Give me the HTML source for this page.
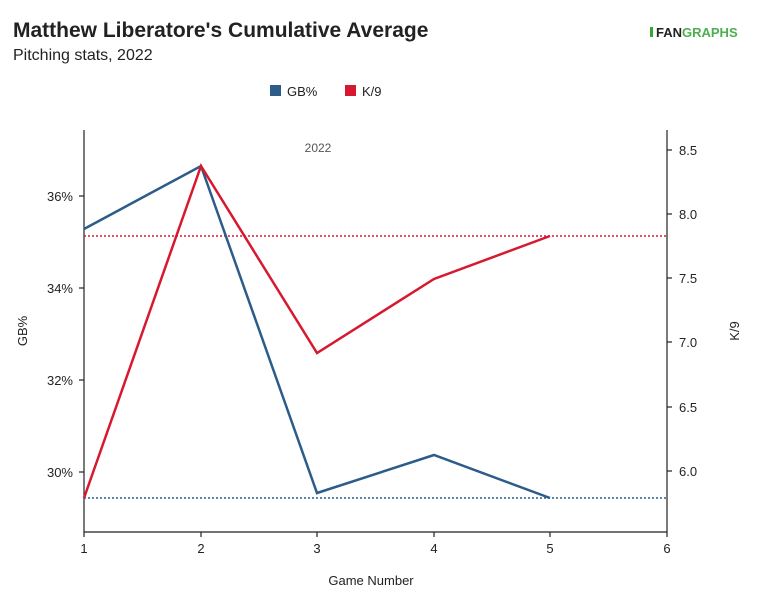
<!DOCTYPE html>
<html><head><style>body{margin:0;background:#fff}svg{display:block;font-family:"Liberation Sans",sans-serif}</style></head>
<body>
<svg width="759" height="614" xmlns="http://www.w3.org/2000/svg">
<text x="13" y="37" font-size="21" font-weight="bold" fill="#222">Matthew Liberatore's Cumulative Average</text>
<text x="13" y="60" font-size="16" fill="#222">Pitching stats, 2022</text>
<g font-weight="bold" font-size="13">
<rect x="650" y="27" width="3" height="10" fill="#3a3"/><text x="656" y="37" fill="#222">FAN<tspan fill="#4caf50">GRAPHS</tspan></text>
</g>
<rect x="270" y="85" width="11" height="11" fill="#2b5c8a"/><text x="287" y="96" font-size="13" fill="#222">GB%</text>
<rect x="345" y="85" width="11" height="11" fill="#d7192f"/><text x="362" y="96" font-size="13" fill="#222">K/9</text>
<text x="318" y="152" font-size="12" fill="#555" text-anchor="middle">2022</text>
<g stroke="#222" stroke-width="1.2">
<line x1="84" y1="130" x2="84" y2="532"/><line x1="667" y1="130" x2="667" y2="532"/><line x1="84" y1="532" x2="667" y2="532"/>
<line x1="79" y1="196" x2="84" y2="196"/><line x1="79" y1="288" x2="84" y2="288"/><line x1="79" y1="380" x2="84" y2="380"/><line x1="79" y1="472" x2="84" y2="472"/>
<line x1="667" y1="150" x2="672" y2="150"/><line x1="667" y1="214" x2="672" y2="214"/><line x1="667" y1="278" x2="672" y2="278"/><line x1="667" y1="342" x2="672" y2="342"/><line x1="667" y1="407" x2="672" y2="407"/><line x1="667" y1="471" x2="672" y2="471"/>
<line x1="84" y1="532" x2="84" y2="537"/><line x1="201" y1="532" x2="201" y2="537"/><line x1="317" y1="532" x2="317" y2="537"/><line x1="434" y1="532" x2="434" y2="537"/><line x1="550" y1="532" x2="550" y2="537"/><line x1="667" y1="532" x2="667" y2="537"/>
</g>
<g font-size="13" fill="#222" text-anchor="end">
<text x="73" y="201">36%</text><text x="73" y="293">34%</text><text x="73" y="385">32%</text><text x="73" y="477">30%</text>
</g>
<g font-size="13" fill="#222">
<text x="679" y="155">8.5</text><text x="679" y="219">8.0</text><text x="679" y="283">7.5</text><text x="679" y="347">7.0</text><text x="679" y="412">6.5</text><text x="679" y="476">6.0</text>
</g>
<g font-size="13" fill="#222" text-anchor="middle">
<text x="84" y="553">1</text><text x="201" y="553">2</text><text x="317" y="553">3</text><text x="434" y="553">4</text><text x="550" y="553">5</text><text x="667" y="553">6</text>
<text x="371" y="585">Game Number</text>
<text transform="translate(27,331) rotate(-90)">GB%</text>
<text transform="translate(739,331) rotate(-90)">K/9</text>
</g>
<line x1="84" y1="236" x2="667" y2="236" stroke="#d7192f" stroke-width="1.5" stroke-dasharray="2,2"/>
<line x1="84" y1="498" x2="667" y2="498" stroke="#2b5c8a" stroke-width="1.5" stroke-dasharray="2,2"/>
<polyline points="84,229 201,166 317,493 434,455 550,498" fill="none" stroke="#2b5c8a" stroke-width="2.5"/>
<polyline points="84,498 201,166 317,353 434,279 550,236" fill="none" stroke="#d7192f" stroke-width="2.5"/>
</svg>
</body></html>
